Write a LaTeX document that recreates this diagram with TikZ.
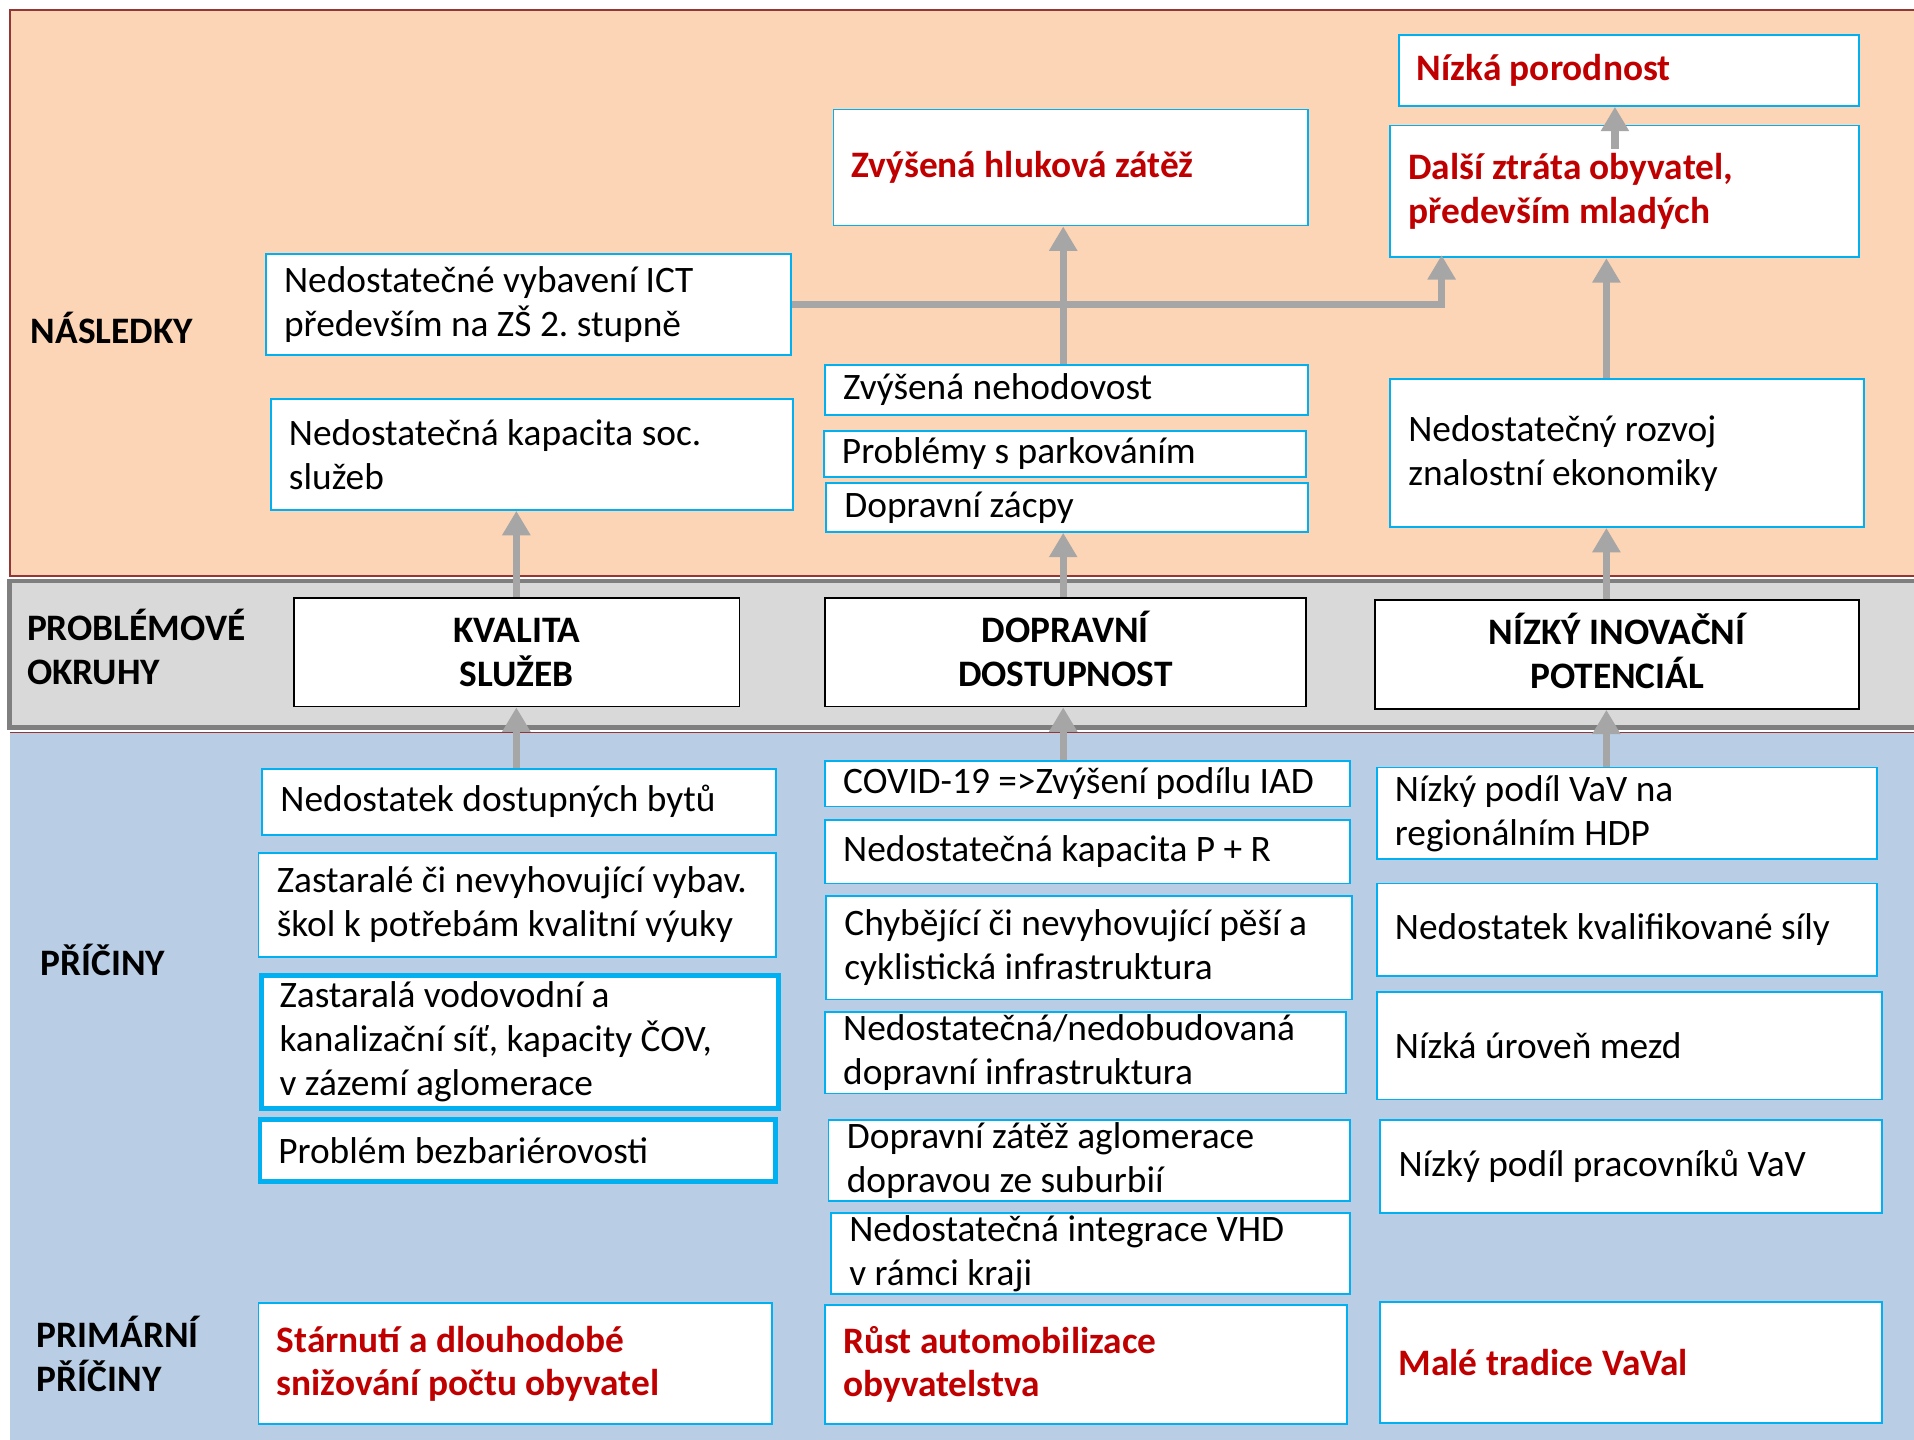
\documentclass[tikz,border=0pt]{standalone}
\usepackage{fontspec}
\setmainfont{Carlito}
\usetikzlibrary{arrows.meta}
\definecolor{bandorange}{HTML}{FBD5B5}
\definecolor{bandgray}{HTML}{D9D9D9}
\definecolor{bandblue}{HTML}{B9CDE5}
\definecolor{bandred}{HTML}{943634}
\definecolor{bandline}{HTML}{7F7F7F}
\definecolor{boxcyan}{HTML}{00B0F0}
\definecolor{redtext}{HTML}{C00000}
\definecolor{arrgray}{HTML}{A6A6A6}
\newcommand{\bodyfont}{\fontsize{30.6}{36}\selectfont\frenchspacing}

\begin{document}
\begin{tikzpicture}[x=1pt, y=-1pt]
\tikzset{box/.style = {draw=boxcyan, line width=1.5pt, fill=white, anchor=north west, align=flush left, inner xsep=15pt, inner ysep=0pt, font=\bodyfont},
  sz/.style 2 args = {minimum width=#1pt, minimum height=#2pt, text width=#1pt-30pt},
  thick box/.style = {box, line width=4pt},
  hot/.style = {text=redtext, font=\bodyfont\bfseries},
  headbox/.style = {box, draw=black, align=flush center, font=\bodyfont\bfseries, text height=20pt},
  lab/.style = {anchor=west, align=flush left, inner sep=0pt, font=\bodyfont\bfseries},
  arr/.style = {draw=arrgray, line width=6pt, -{Triangle[width=22pt,length=20pt]}}}

\useasboundingbox (0,0) rectangle (1568,1179); \clip (0,0) rectangle (1568,1179);
\fill[bandorange] (8,8) rectangle (1600,472);
\draw[bandred, line width=2pt] (1600,8) -- (8,8) -- (8,472) -- (1600,472);
\fill[bandblue] (8,600) rectangle (1600,1200);
\draw[bandred, line width=1pt] (8,600) -- (1600,600);
\draw[bandline, line width=4pt, fill=bandgray] (1600,476) -- (8,476) -- (8,596) -- (1600,596) -- cycle;

\coordinate (lc) at (423,0); \coordinate (mc) at (871,0); \coordinate (rc) at (1316,0); \coordinate (pc) at (1323,0);
\coordinate (ictup) at (1181,209);

\node[lab] (nasl) at (25,269) {NÁSLEDKY};
\node[lab] (okruhy) at (22,530) {PROBLÉMOVÉ\\OKRUHY};
\node[lab] (priciny) at (33,786) {PŘÍČINY};
\node[lab] (primarni) at (30,1109) {PRIMÁRNÍ\\PŘÍČINY};

\node[box, hot, sz={377}{58}] (porod) at (1145,28) {Nízká porodnost};
\node[box, hot, sz={389}{95}] (hluk) at (682,89) {Zvýšená hluková zátěž};
\node[box, hot, sz={384}{108}] (dalsi) at (1138,102) {Další ztráta obyvatel,\\především mladých};
\node[box, sz={430}{83}] (ict) at (217,207) {Nedostatečné vybavení ICT\\především na ZŠ 2. stupně};
\node[box, sz={428}{91}] (soc) at (221,326) {Nedostatečná kapacita soc.\\služeb};
\node[box, sz={396}{41}] (nehod) at (675,298) {Zvýšená nehodovost};
\node[box, sz={395}{38}] (park) at (674,352) {Problémy s parkováním};
\node[box, sz={395}{40}] (zacpy) at (676,395) {Dopravní zácpy};
\node[box, sz={388}{121}] (rozvoj) at (1138,310) {Nedostatečný rozvoj\\znalostní ekonomiky};

\node[headbox, sz={365}{89}] (kval) at (240,489) {KVALITA\\SLUŽEB};
\node[headbox, sz={394}{89}] (dop) at (675,489) {DOPRAVNÍ\\DOSTUPNOST};
\node[headbox, sz={396}{89}] (inov) at (1126,491) {NÍZKÝ INOVAČNÍ\\POTENCIÁL};

\node[box, sz={421}{54}] (byty) at (214,629) {Nedostatek dostupných bytů};
\node[box, sz={424}{85}] (skoly) at (211,698) {Zastaralé či nevyhovující vybav.\\škol k potřebám kvalitní výuky};
\node[thick box, sz={424}{109}] (voda) at (212,797) {Zastaralá vodovodní a\\kanalizační síť, kapacity ČOV,\\v zázemí aglomerace};
\node[thick box, sz={422}{51}] (bariera) at (211,915) {Problém bezbariérovosti};
\node[box, sz={430}{37}] (covid) at (675,623) {COVID-19 =>Zvýšení podílu IAD};
\node[box, sz={430}{52}] (pr) at (675,671) {Nedostatečná kapacita P + R};
\node[box, sz={431}{85}] (pesi) at (676,733) {Chybějící či nevyhovující pěší a\\cyklistická infrastruktura};
\node[box, sz={427}{67}] (infra) at (675,828) {Nedostatečná/nedobudovaná\\dopravní infrastruktura};
\node[box, sz={427}{66}] (zatez) at (678,917) {Dopravní zátěž aglomerace\\dopravou ze suburbií};
\node[box, sz={425}{66}] (vhd) at (680,993) {Nedostatečná integrace VHD\\v rámci kraji};
\node[box, sz={410}{75}] (vav) at (1127,628) {Nízký podíl VaV na\\regionálním HDP};
\node[box, sz={410}{76}] (kvalif) at (1127,723) {Nedostatek kvalifikované síly};
\node[box, sz={414}{88}] (mzdy) at (1127,812) {Nízká úroveň mezd};
\node[box, sz={411}{76}] (prac) at (1130,917) {Nízký podíl pracovníků VaV};
\node[box, hot, sz={421}{99}] (starnuti) at (211,1067) {Stárnutí a dlouhodobé\\snižování počtu obyvatel};
\node[box, hot, sz={428}{98}] (auto) at (675,1068) {Růst automobilizace\\obyvatelstva};
\node[box, hot, sz={411}{99}] (tradice) at (1130,1066) {Malé tradice VaVal};

\draw[arr] (byty.north -| lc) -- (kval.south -| lc); \draw[arr] (kval.north -| lc) -- (soc.south -| lc);
\draw[arr] (covid.north -| mc) -- (dop.south -| mc); \draw[arr] (dop.north -| mc) -- (zacpy.south -| mc);
\draw[arr] (nehod.north -| mc) -- (hluk.south -| mc); \draw[arr] (ict.east) -| (ictup);
\draw[arr] (vav.north -| rc) -- (inov.south -| rc); \draw[arr] (inov.north -| rc) -- (rozvoj.south -| rc);
\draw[arr] (rozvoj.north -| rc) -- (dalsi.south -| rc); \draw[arr] ([yshift=-20pt]dalsi.north -| pc) -- (porod.south -| pc);
\end{tikzpicture}
\end{document}
